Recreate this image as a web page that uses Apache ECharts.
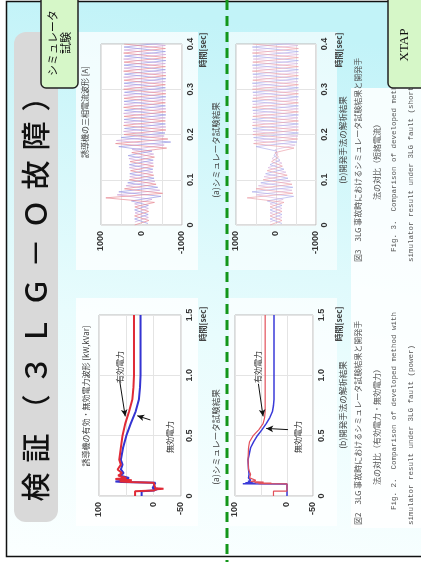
<!DOCTYPE html>
<html>
<head>
<meta charset="utf-8">
<script src="https://cdn.jsdelivr.net/npm/echarts@6/dist/echarts.min.js"></script>
<style>
  html, body { margin: 0; padding: 0; background: #fff; }
  #chart { width: 421px; height: 562px; }
</style>
</head>
<body>
<div id="chart"></div>
<script>
// current peaks, one per half cycle, three phases [sec]
const peakTimeA = [0, 0.01, 0.02, 0.03, 0.04, 0.05, 0.06, 0.07, 0.08, 0.09, 0.1, 0.11, 0.12, 0.13, 0.14, 0.15, 0.16, 0.17, 0.18, 0.19, 0.2, 0.21, 0.22, 0.23, 0.24, 0.25, 0.26, 0.27, 0.28, 0.29, 0.3, 0.31, 0.32, 0.33, 0.34, 0.35, 0.36, 0.37, 0.38, 0.39, 0.4];
const peakTimeB = [0.0033, 0.0133, 0.0233, 0.0333, 0.0433, 0.0533, 0.0633, 0.0733, 0.0833, 0.0933, 0.1033, 0.1133, 0.1233, 0.1333, 0.1433, 0.1533, 0.1633, 0.1733, 0.1833, 0.1933, 0.2033, 0.2133, 0.2233, 0.2333, 0.2433, 0.2533, 0.2633, 0.2733, 0.2833, 0.2933, 0.3033, 0.3133, 0.3233, 0.3333, 0.3433, 0.3533, 0.3633, 0.3733, 0.3833, 0.3933, 0.4033];
const peakTimeC = [0.0067, 0.0167, 0.0267, 0.0367, 0.0467, 0.0567, 0.0667, 0.0767, 0.0867, 0.0967, 0.1067, 0.1167, 0.1267, 0.1367, 0.1467, 0.1567, 0.1667, 0.1767, 0.1867, 0.1967, 0.2067, 0.2167, 0.2267, 0.2367, 0.2467, 0.2567, 0.2667, 0.2767, 0.2867, 0.2967, 0.3067, 0.3167, 0.3267, 0.3367, 0.3467, 0.3567, 0.3667, 0.3767, 0.3867, 0.3967, 0.4067];

// simulator test, three-phase current [A]
const simCurA = [170, -180, 170, -175, 165, -320, 880, -520, 420, -360, 300, -300, 270, -300, 280, -320, 240, -620, 640, -650, 430, -600, 440, -590, 430, -600, 440, -590, 430, -600, 440, -590, 430, -600, 440, -590, 430, -600, 440, -590, 430];
const simCurB = [-160, 170, -165, 170, -170, 250, -480, 560, -400, 340, -310, 290, -280, 300, -290, 330, -260, 560, -720, 500, -580, 420, -590, 430, -600, 420, -590, 430, -600, 420, -590, 430, -600, 420, -590, 430, -600, 420, -590, 430, -600];
const simCurC = [165, -170, 160, -170, 170, -260, 600, -450, 380, -330, 290, -280, 300, -290, 310, -300, 230, -560, 620, -560, 440, -600, 430, -590, 440, -600, 430, -590, 440, -600, 430, -590, 440, -600, 430, -590, 440, -600, 430, -590, 440];

// developed method (XTAP), three-phase current [A]
const xtapCurA = [150, -150, 150, -150, 150, -200, 720, -420, 500, -400, 320, -280, 220, -160, 110, -60, 20, -450, 560, -540, 580, -560, 590, -560, 580, -560, 590, -560, 580, -560, 590, -560, 580, -560, 590, -560, 580, -560, 590, -560, 580];
const xtapCurB = [-150, 150, -150, 150, -150, 220, -440, 600, -420, 380, -300, 260, -200, 150, -100, 50, -20, 500, -520, 560, -560, 580, -560, 590, -560, 580, -560, 590, -560, 580, -560, 590, -560, 580, -560, 590, -560, 580, -560, 590, -560];
const xtapCurC = [150, -150, 150, -150, 150, -180, 500, -400, 440, -360, 300, -250, 200, -150, 100, -50, 20, -480, 540, -550, 570, -560, 580, -550, 570, -560, 580, -550, 570, -560, 580, -550, 570, -560, 580, -550, 570, -560, 580, -550, 570];

// active / reactive power [kW, kVar]
const simPowTime = [0, 0.04, 0.045, 0.055, 0.06, 0.065, 0.08, 0.11, 0.115, 0.12, 0.13, 0.14, 0.15, 0.17, 0.19, 0.22, 0.26, 0.3, 0.4, 0.5, 0.6, 0.7, 0.8, 0.9, 1.0, 1.2, 1.5];
const simP = [34, 34, 0, -5, -18, -3, 0, 0, 45, 62, 40, 70, 50, 65, 58, 66, 60, 63, 60, 57, 52, 45, 39, 37, 36, 36, 36];
const simQ = [22, 22, 0, -2, -8, 2, 0, -3, 58, 70, 46, 60, 45, 62, 55, 60, 57, 60, 56, 50, 42, 33, 27, 25, 24, 24, 24];

const xtapPowTime = [0, 0.04, 0.041, 0.1, 0.102, 0.106, 0.11, 0.115, 0.12, 0.13, 0.15, 0.18, 0.22, 0.3, 0.4, 0.45, 0.5, 0.55, 0.6, 0.65, 0.7, 0.75, 0.8, 1.0, 1.5];
const xtapP = [26, 26, 0, 0, 55, 30, 62, 45, 70, 60, 72, 70, 74, 75, 74, 72, 65, 54, 46, 43, 42, 42, 42, 42, 42];
const xtapQ = [0, 0, 0, 0, 85, 60, 80, 66, 75, 70, 74, 73, 74, 75, 70, 64, 57, 48, 40, 33, 28, 26, 25, 25, 25];

const curTicks = [1000, 0, -1000];
const powTicks = [100, 0, -50];

const titleChars = ['検', '証', '（', '３', 'Ｌ', 'Ｇ', '－', 'Ｏ', '故', '障', '）'];

const jp = '"Noto Sans CJK JP"';
const chart = echarts.init(document.getElementById('chart'));

function pairs(times, vals) {
  return times.map((t, i) => [vals[i], t]);
}

function vtext(x, y, text, font, color, align, z) {
  return {
    type: 'text', x: x, y: y, rotation: Math.PI / 2, z: z || 20,
    style: { text: text, font: font, fill: color, textAlign: align || 'center', textVerticalAlign: 'middle' }
  };
}

const grids = [
  { left: 101, top: 44, width: 81, height: 181 },
  { left: 236, top: 44, width: 80, height: 181 },
  { left: 99, top: 315, width: 82, height: 181 },
  { left: 235, top: 315, width: 78, height: 181 }
].map(g => Object.assign(g, { show: true, backgroundColor: '#fff', borderColor: '#b8b8b8', borderWidth: 1 }));

const axisFont = { fontSize: 9, fontWeight: 'bold', fontFamily: 'Liberation Sans', color: '#333' };

function valueAxis(idx, isCur) {
  const ticks = isCur ? curTicks : powTicks;
  return {
    type: 'value', gridIndex: idx, inverse: true,
    min: isCur ? -1000 : -50, max: isCur ? 1000 : 100, interval: isCur ? 500 : 50,
    axisLine: { show: false }, axisTick: { show: false },
    splitLine: { show: true, lineStyle: { color: '#e4e4e4', width: 1 } },
    axisLabel: Object.assign({ rotate: 90, margin: 6,
      formatter: v => ticks.indexOf(v) >= 0 ? String(v) : '' }, axisFont)
  };
}

function timeAxis(idx, isCur) {
  return {
    type: 'value', gridIndex: idx, position: 'right',
    min: 0, max: isCur ? 0.4 : 1.5, interval: isCur ? 0.1 : 0.5,
    axisLine: { show: false }, axisTick: { show: false },
    splitLine: { show: true, lineStyle: { color: '#e4e4e4', width: 1 } },
    axisLabel: Object.assign({ rotate: 90, margin: 4,
      formatter: v => v === 0 ? '0' : v.toFixed(1) }, axisFont)
  };
}

function curSeries(idx, times, vals, color) {
  return {
    type: 'line', xAxisIndex: idx, yAxisIndex: idx, data: pairs(times, vals),
    showSymbol: false, animation: false,
    lineStyle: { color: color, width: 1, opacity: 0.7 }
  };
}

function arrow(from, to) {
  return {
    silent: true, symbol: ['none', 'arrow'], symbolSize: [5, 7], animation: false,
    lineStyle: { color: '#111', width: 1, type: 'solid' }, label: { show: false },
    data: [[{ coord: from }, { coord: to }]]
  };
}

function powSeries(idx, times, vals, color, width, mark) {
  const s = {
    type: 'line', xAxisIndex: idx, yAxisIndex: idx, data: pairs(times, vals),
    showSymbol: false, animation: false,
    lineStyle: { color: color, width: width }
  };
  if (mark) s.markLine = mark;
  return s;
}

const graphics = [
  // slide background with frame
  { type: 'rect', z: -10, shape: { x: 6.5, y: 1.5, width: 420, height: 555 },
    style: { fill: new echarts.graphic.LinearGradient(0.2, 0, 0, 1, [
      { offset: 0, color: '#c2f3f8' }, { offset: 0.55, color: '#e8fcfd' }, { offset: 1, color: '#fbffff' }]),
      stroke: '#111', lineWidth: 1.5 } },
  // white panels behind the scanned figures
  { type: 'rect', z: -9, shape: { x: 76, y: 32, width: 122, height: 238 }, style: { fill: 'rgba(255,255,255,0.75)' } },
  { type: 'rect', z: -9, shape: { x: 229, y: 32, width: 108, height: 238 }, style: { fill: 'rgba(255,255,255,0.6)' } },
  { type: 'rect', z: -9, shape: { x: 76, y: 298, width: 122, height: 228 }, style: { fill: 'rgba(255,255,255,0.8)' } },
  { type: 'rect', z: -9, shape: { x: 229, y: 298, width: 108, height: 228 }, style: { fill: 'rgba(255,255,255,0.7)' } },
  { type: 'rect', z: -9, shape: { x: 351, y: 88, width: 72, height: 440 }, style: { fill: 'rgba(255,255,255,0.85)' } },
  // title pill
  { type: 'rect', z: -5, shape: { x: 14, y: 32, width: 44, height: 490, r: 12 }, style: { fill: '#d9d9d9' } },
  // dashed divider
  { type: 'line', z: 50, shape: { x1: 227, y1: 0, x2: 227, y2: 562 },
    style: { stroke: '#13961a', lineWidth: 3, lineDash: [10, 6] } },
  // label boxes
  { type: 'rect', z: 60, shape: { x: 41, y: -6, width: 37, height: 94, r: 5 },
    style: { fill: '#d6f7c8', stroke: '#222', lineWidth: 1.5 } },
  vtext(53, 43, 'シミュレータ', '11px ' + jp, '#111', 'center', 61),
  vtext(66, 43, '試験', '11px ' + jp, '#111', 'center', 61),
  { type: 'rect', z: 60, shape: { x: 388, y: -6, width: 40, height: 94, r: 5 },
    style: { fill: '#d6f7c8', stroke: '#222', lineWidth: 1.5 } },
  vtext(405, 45, 'XTAP', '13px "Liberation Serif"', '#111', 'center', 61),
  // chart titles and axis names
  vtext(85, 112, '誘導機の三相電流波形 [A]', '8px ' + jp, '#444'),
  vtext(86, 396, '誘導機の有効・無効電力波形 [kW,kVar]', '8px ' + jp, '#444'),
  vtext(203, 50, '時間[sec]', 'bold 8px ' + jp, '#444'),
  vtext(339, 50, '時間[sec]', 'bold 8px ' + jp, '#444'),
  vtext(203, 324, '時間[sec]', 'bold 8px ' + jp, '#444'),
  vtext(339, 324, '時間[sec]', 'bold 8px ' + jp, '#444'),
  // sub captions
  vtext(216, 150, '(a)シミュレータ試験結果', '8.5px ' + jp, '#444'),
  vtext(216, 437, '(a)シミュレータ試験結果', '8.5px ' + jp, '#444'),
  vtext(343, 140, '(b)開発手法の解析結果', '8.5px ' + jp, '#444'),
  vtext(343, 405, '(b)開発手法の解析結果', '8.5px ' + jp, '#444'),
  // power annotations
  vtext(120, 367, '有効電力', '8px ' + jp, '#333'),
  vtext(170, 437, '無効電力', '8px ' + jp, '#333'),
  vtext(258, 367, '有効電力', '8px ' + jp, '#333'),
  vtext(298, 437, '無効電力', '8px ' + jp, '#333'),
  // figure captions
  vtext(358, 262, '図3　3LG 事故時におけるシミュレータ試験結果と開発手', '8px ' + jp, '#555', 'left'),
  vtext(377, 200, '法の対比（短絡電流）', '8px ' + jp, '#555', 'left'),
  vtext(394, 252, 'Fig. 3.  Comparison of developed method with', '7.5px "Liberation Mono"', '#555', 'left'),
  vtext(411, 262, 'simulator result under 3LG fault (short circuit)', '7.5px "Liberation Mono"', '#555', 'left'),
  vtext(358, 525, '図2　3LG 事故時におけるシミュレータ試験結果と開発手', '8px ' + jp, '#555', 'left'),
  vtext(377, 485, '法の対比（有効電力・無効電力）', '8px ' + jp, '#555', 'left'),
  vtext(394, 510, 'Fig. 2.  Comparison of developed method with', '7.5px "Liberation Mono"', '#555', 'left'),
  vtext(411, 525, 'simulator result under 3LG fault (power)', '7.5px "Liberation Mono"', '#555', 'left')
];

titleChars.forEach((ch, i) => {
  graphics.push(vtext(36, 487 - i * 39, ch, '500 29px ' + jp, '#111'));
});

chart.setOption({
  animation: false,
  grid: grids,
  xAxis: [valueAxis(0, true), valueAxis(1, true), valueAxis(2, false), valueAxis(3, false)],
  yAxis: [timeAxis(0, true), timeAxis(1, true), timeAxis(2, false), timeAxis(3, false)],
  graphic: { elements: graphics },
  series: [
    curSeries(0, peakTimeC, simCurC, '#cfa8dc'),
    curSeries(0, peakTimeB, simCurB, '#9a9ae6'),
    curSeries(0, peakTimeA, simCurA, '#e88a94'),
    curSeries(1, peakTimeC, xtapCurC, '#dcbce2'),
    curSeries(1, peakTimeB, xtapCurB, '#b0b0ec'),
    curSeries(1, peakTimeA, xtapCurA, '#eca4ac'),
    powSeries(2, simPowTime, simQ, '#3434d2', 2, arrow([6, 0.63], [30, 0.665])),
    powSeries(2, simPowTime, simP, '#e02a36', 2, arrow([62, 0.95], [52, 0.66])),
    powSeries(3, xtapPowTime, xtapQ, '#3a3ad8', 1.5, arrow([-2, 0.55], [40, 0.56])),
    powSeries(3, xtapPowTime, xtapP, '#e2505a', 1.2, arrow([55, 0.93], [46, 0.66]))
  ]
});
</script>
</body>
</html>
